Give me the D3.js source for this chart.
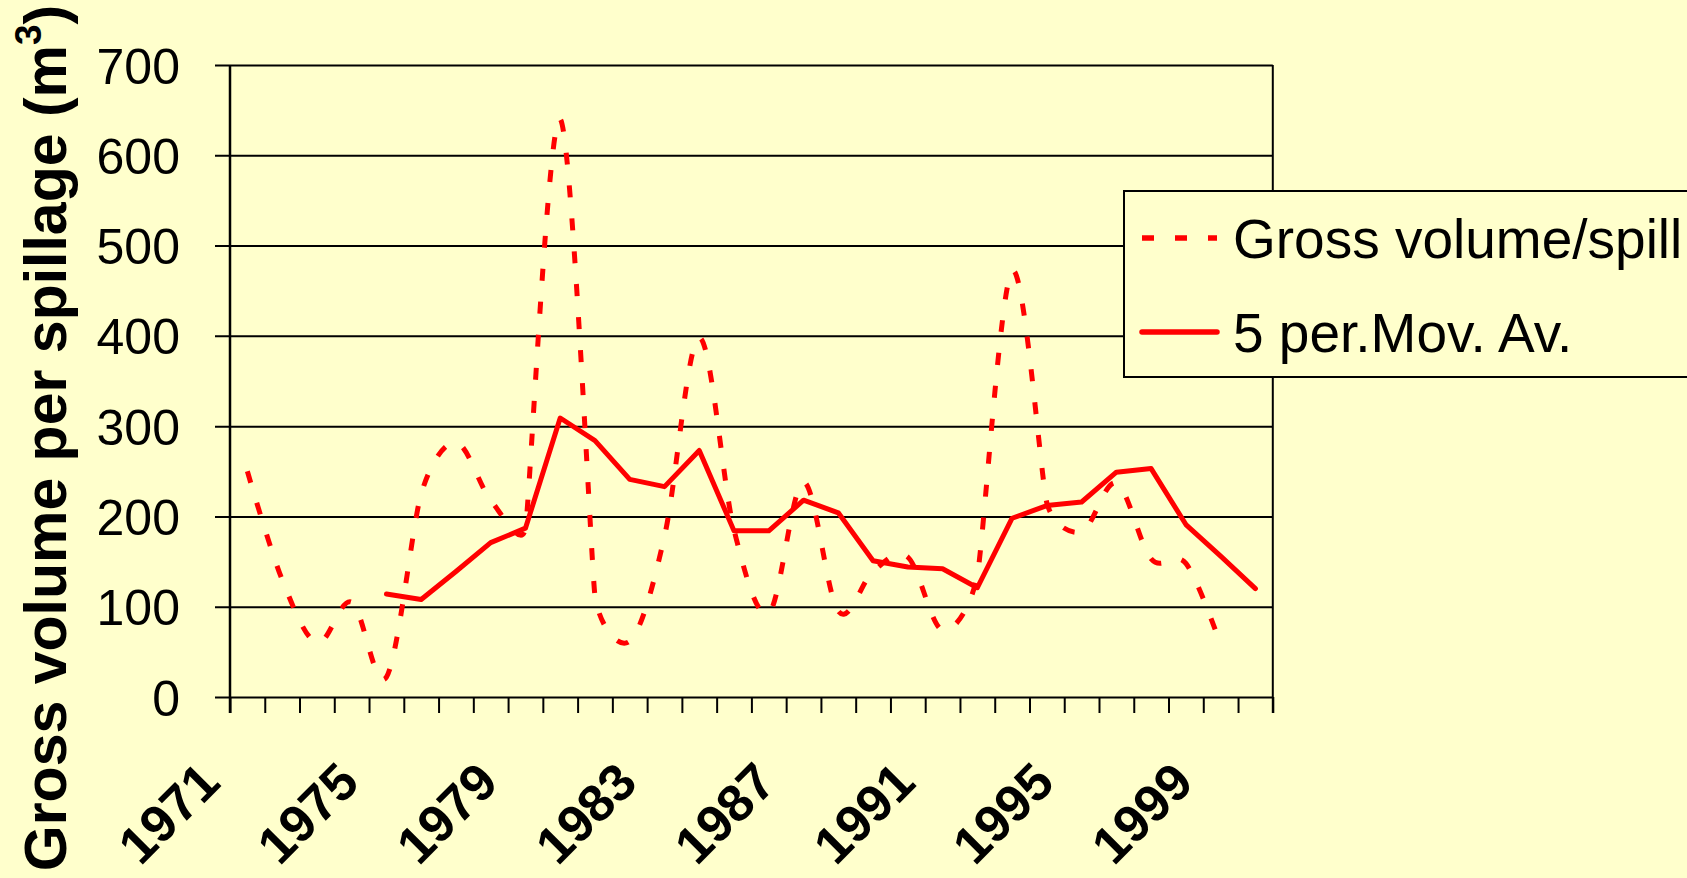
<!DOCTYPE html>
<html>
<head>
<meta charset="utf-8">
<script src="https://cdn.jsdelivr.net/npm/d3@7.9.0/dist/d3.min.js"></script>
<style>
  html, body { margin: 0; padding: 0; background: #ffffcc; overflow: hidden; }
  svg { display: block; font-family: Arial, 'Liberation Sans', sans-serif; }
</style>
</head>
<body>
<svg id="chart" width="1687" height="878"></svg>
<script>
// ====== Data ======
const years = ['1971', '1972', '1973', '1974', '1975', '1976', '1977', '1978', '1979', '1980',
  '1981', '1982', '1983', '1984', '1985', '1986', '1987', '1988', '1989', '1990',
  '1991', '1992', '1993', '1994', '1995', '1996', '1997', '1998', '1999', '2000'];
const grossVolume = [250, 130, 60, 105, 22, 225, 282, 218, 187, 640,
  112, 62, 178, 398, 185, 93, 238, 95, 139, 155,
  74, 135, 472, 215, 183, 237, 153, 148, 58, null];
const movingAvg = [null, null, null, null, 114, 108, 139, 171, 187, 309,
  284, 241, 233, 273, 184, 184, 218, 204, 151, 144,
  142, 121, 198, 212, 216, 249, 253, 191, 156, 120];
const yTicks = [0, 100, 200, 300, 400, 500, 600, 700];
const labelYears = ['1971', '1975', '1979', '1983', '1987', '1991', '1995', '1999'];
const seriesNames = ['Gross volume/spill', '5 per.Mov. Av.'];

// ====== Setup ======
const svg = d3.select('#chart');
const plotLeft = 230, plotRight = 1272.8, plotTop = 65, plotBottom = 697;
const red = '#ff0000';

const x = d3.scaleBand().domain(years).range([plotLeft, plotRight]);
const xEdge = d3.scaleLinear().domain([0, years.length]).range([plotLeft, plotRight]);
const y = d3.scaleLinear().domain([0, 700]).range([plotBottom, plotTop]);
const cx = (d) => x(d) + x.bandwidth() / 2;

// spreadsheet-style smoothing: bezier handles of 1/6 of the neighbour chord,
// shortened when they would reach past half of the adjacent segment
function smoothCurve(context) {
  let pts = [];
  const dist = (a, b) => Math.hypot(a[0] - b[0], a[1] - b[1]);
  const handle = (i, dir) => {
    const p = pts[i];
    const p0 = pts[i - 1] || p;
    const p2 = pts[i + 1] || p;
    const d01 = dist(p0, p), d12 = dist(p, p2), d02 = dist(p0, p2);
    let f = 1 / 6;
    if (d02 > 0) f = Math.min(f, d01 / (2 * d02), d12 / (2 * d02));
    return [p[0] + dir * f * (p2[0] - p0[0]), p[1] + dir * f * (p2[1] - p0[1])];
  };
  return {
    areaStart() {},
    areaEnd() {},
    lineStart() { pts = []; },
    point(px, py) { pts.push([+px, +py]); },
    lineEnd() {
      if (!pts.length) return;
      context.moveTo(pts[0][0], pts[0][1]);
      for (let i = 0; i < pts.length - 1; i++) {
        const c1 = handle(i, 1);
        const c2 = handle(i + 1, -1);
        context.bezierCurveTo(c1[0], c1[1], c2[0], c2[1], pts[i + 1][0], pts[i + 1][1]);
      }
    },
  };
}

svg.append('rect').attr('width', 1687).attr('height', 878).attr('fill', '#ffffcc');

// ====== Gridlines + y axis ======
const yAxis = svg.append('g')
  .attr('transform', `translate(${plotLeft},0)`)
  .call(d3.axisLeft(y).tickValues(yTicks).tickSize(15).tickFormat(d3.format('d')));
yAxis.select('.domain').remove();
yAxis.selectAll('line').attr('x2', plotRight - plotLeft).attr('x1', -15)
  .attr('stroke', '#000').attr('stroke-width', 2);
yAxis.selectAll('text')
  .attr('x', -50).attr('dy', '0.36em')
  .attr('font-size', 50).attr('fill', '#000')
  .attr('font-family', 'Arial, "Liberation Sans", sans-serif');

// right border + left axis
svg.append('line').attr('x1', plotRight).attr('x2', plotRight).attr('y1', plotTop).attr('y2', plotBottom + 16)
  .attr('stroke', '#000').attr('stroke-width', 2);
svg.append('line').attr('x1', plotLeft).attr('x2', plotLeft).attr('y1', plotTop).attr('y2', plotBottom + 16)
  .attr('stroke', '#000').attr('stroke-width', 2.5);

// ====== x axis ticks ======
const xAxis = svg.append('g')
  .attr('transform', `translate(0,${plotBottom})`)
  .call(d3.axisBottom(xEdge).tickValues(d3.range(years.length + 1)).tickSize(16).tickFormat(''));
xAxis.select('.domain').remove();
xAxis.selectAll('line').attr('stroke', '#000').attr('stroke-width', 2);

svg.append('g').selectAll('text')
  .data(labelYears)
  .join('text')
  .attr('transform', (d) => `translate(${cx(d) - 25},${plotBottom + 88}) rotate(-45)`)
  .attr('text-anchor', 'end')
  .attr('font-size', 52)
  .attr('font-weight', 'bold')
  .attr('fill', '#000')
  .text((d) => d);

// ====== y axis title ======
const title = svg.append('text')
  .attr('transform', 'translate(66,438) rotate(-90)')
  .attr('text-anchor', 'middle')
  .attr('font-size', 59)
  .attr('font-weight', 'bold')
  .attr('fill', '#000');
title.append('tspan').text('Gross volume per spillage (m');
title.append('tspan').attr('font-size', 37).attr('dy', -25).text('3');
title.append('tspan').attr('dy', 25).text(')');

// ====== Lines ======
const grossLine = d3.line()
  .defined((d) => d.v != null)
  .x((d) => cx(d.year))
  .y((d) => y(d.v))
  .curve(smoothCurve);
const avgLine = d3.line()
  .defined((d) => d.v != null)
  .x((d) => cx(d.year))
  .y((d) => y(d.v));

svg.append('path')
  .datum(years.map((yr, i) => ({ year: yr, v: grossVolume[i] })))
  .attr('d', grossLine)
  .attr('fill', 'none')
  .attr('stroke', red)
  .attr('stroke-width', 5)
  .attr('stroke-dasharray', '12 21');

svg.append('path')
  .datum(years.map((yr, i) => ({ year: yr, v: movingAvg[i] })))
  .attr('d', avgLine)
  .attr('fill', 'none')
  .attr('stroke', red)
  .attr('stroke-width', 5)
  .attr('stroke-linecap', 'round')
  .attr('stroke-linejoin', 'round');

// ====== Legend ======
const legend = svg.append('g');
legend.append('rect')
  .attr('x', 1124).attr('y', 191).attr('width', 620).attr('height', 186)
  .attr('fill', '#ffffcc').attr('stroke', '#000').attr('stroke-width', 2);

const rows = [
  { name: seriesNames[0], y: 238, dash: '12 21', cap: 'butt' },
  { name: seriesNames[1], y: 332, dash: null, cap: 'round' },
];
rows.forEach((r) => {
  legend.append('line')
    .attr('x1', 1142).attr('x2', 1217).attr('y1', r.y).attr('y2', r.y)
    .attr('stroke', red).attr('stroke-width', 5.5)
    .attr('stroke-dasharray', r.dash)
    .attr('stroke-linecap', r.cap);
  legend.append('text')
    .attr('x', 1233).attr('y', r.y + 20)
    .attr('font-size', 55)
    .attr('fill', '#000')
    .text(r.name);
});
</script>
</body>
</html>
